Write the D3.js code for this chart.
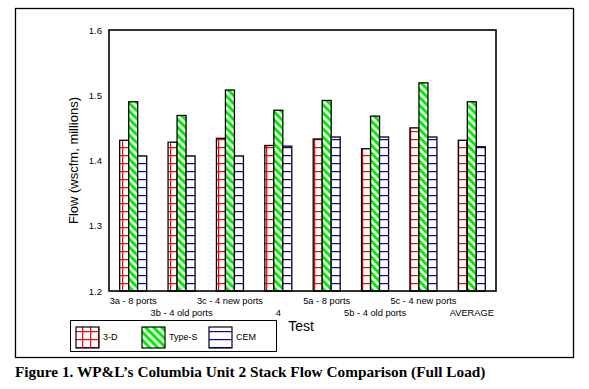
<!DOCTYPE html>
<html>
<head>
<meta charset="utf-8">
<script src="https://cdn.jsdelivr.net/npm/d3@7"></script>
<style>
  html, body { margin: 0; padding: 0; background: #fff; }
  svg { display: block; }
</style>
</head>
<body>
<script>
const categories = ["3a - 8 ports", "3b - 4 old ports", "3c - 4 new ports", "4",
                    "5a - 8 ports", "5b - 4 old ports", "5c - 4 new ports", "AVERAGE"];
const seriesNames = ["3-D", "Type-S", "CEM"];
const values3D    = [1.431, 1.428, 1.434, 1.423, 1.433, 1.418, 1.450, 1.431];
const valuesTypeS = [1.490, 1.469, 1.508, 1.477, 1.492, 1.468, 1.519, 1.490];
const valuesCEM   = [1.407, 1.407, 1.407, 1.422, 1.436, 1.436, 1.436, 1.421];
const yTicks = [1.2, 1.3, 1.4, 1.5, 1.6];
const yTitle = "Flow (wscfm, millions)";
const xTitle = "Test";
const caption = "Figure 1. WP&L\u2019s Columbia Unit 2 Stack Flow Comparison (Full Load)";

const W = 589, H = 389;
const svg = d3.select("body").append("svg").attr("width", W).attr("height", H);
const defs = svg.append("defs");

// patterns
const p1 = defs.append("pattern").attr("id", "pat3d").attr("patternUnits", "userSpaceOnUse")
  .attr("width", 8).attr("height", 8);
p1.append("rect").attr("width", 8).attr("height", 8).attr("fill", "#fff");
p1.append("rect").attr("x", 2).attr("y", 0).attr("width", 1.2).attr("height", 8).attr("fill", "#ff0000");
p1.append("rect").attr("x", 0).attr("y", 3).attr("width", 8).attr("height", 1.2).attr("fill", "#ff0000");

const d = 8 / Math.SQRT2;
const p2 = defs.append("pattern").attr("id", "patS").attr("patternUnits", "userSpaceOnUse")
  .attr("width", d).attr("height", d).attr("patternTransform", "rotate(-45)");
p2.append("rect").attr("width", d).attr("height", d).attr("fill", "#fff");
p2.append("rect").attr("width", d / 2 + 0.3).attr("height", d).attr("fill", "#00ee00");

const p3 = defs.append("pattern").attr("id", "patCEM").attr("patternUnits", "userSpaceOnUse")
  .attr("width", 8).attr("height", 8);
p3.append("rect").attr("width", 8).attr("height", 8).attr("fill", "#fff");
p3.append("rect").attr("x", 0).attr("y", 3).attr("width", 8).attr("height", 1.2).attr("fill", "#0000cc");

const fills = ["url(#pat3d)", "url(#patS)", "url(#patCEM)"];
const seriesValues = [values3D, valuesTypeS, valuesCEM];

// outer frame
svg.append("rect").attr("x", 15.5).attr("y", 8.5).attr("width", 558).attr("height", 349)
  .attr("fill", "none").attr("stroke", "#000").attr("stroke-width", 1.3);

const plot = { left: 109, right: 496, top: 30, bottom: 291 };
const y = d3.scaleLinear().domain([1.2, 1.6]).range([plot.bottom, plot.top]);
const x0 = d3.scaleBand().domain(categories).range([plot.left, plot.right])
  .paddingInner(0.442).paddingOuter(0.221);
const x1 = d3.scaleBand().domain(seriesNames).range([0, x0.bandwidth()]);

// bars
categories.forEach((c, i) => {
  seriesNames.forEach((s, j) => {
    const v = seriesValues[j][i];
    svg.append("rect")
      .attr("x", x0(c) + x1(s))
      .attr("y", y(v))
      .attr("width", x1.bandwidth())
      .attr("height", y(1.2) - y(v))
      .attr("fill", fills[j])
      .attr("stroke", "#000").attr("stroke-width", 1.3);
  });
});

// plot frame
svg.append("rect").attr("x", plot.left).attr("y", plot.top)
  .attr("width", plot.right - plot.left).attr("height", plot.bottom - plot.top)
  .attr("fill", "none").attr("stroke", "#000").attr("stroke-width", 1.6);

const font = "'Liberation Sans', Arial, sans-serif";

// y axis
const yAxis = d3.axisLeft(y).tickValues(yTicks).tickFormat(d3.format(".1f")).tickSize(0).tickPadding(7);
const gy = svg.append("g").attr("transform", `translate(${plot.left},0)`).call(yAxis);
gy.select(".domain").remove();
gy.selectAll("text").attr("font-family", font).attr("font-size", "9.5px").attr("fill", "#000");

// x axis labels (staggered)
const xAxis = d3.axisBottom(x0).tickSize(0).tickPadding(0);
const gx = svg.append("g").attr("transform", `translate(0,${plot.bottom})`).call(xAxis);
gx.select(".domain").remove();
gx.selectAll("text")
  .attr("font-family", font).attr("font-size", "9.3px").attr("fill", "#000")
  .attr("dy", null)
  .attr("y", (dd, i) => (i % 2 === 0 ? 13 : 25));

// axis titles
svg.append("text").attr("transform", `translate(78,${(plot.top + plot.bottom) / 2}) rotate(-90)`)
  .attr("text-anchor", "middle").attr("font-family", font).attr("font-size", "13px").text(yTitle);
svg.append("text").attr("x", 301).attr("y", 331).attr("text-anchor", "middle")
  .attr("font-family", font).attr("font-size", "14px").text(xTitle);

// legend
svg.append("rect").attr("x", 70.5).attr("y", 320.5).attr("width", 206).attr("height", 31)
  .attr("fill", "none").attr("stroke", "#000").attr("stroke-width", 1);
const legX = [76, 142, 209];
seriesNames.forEach((s, j) => {
  svg.append("rect").attr("x", legX[j]).attr("y", 327).attr("width", 23).attr("height", 21)
    .attr("fill", fills[j]).attr("stroke", "#000").attr("stroke-width", 1.2);
  svg.append("text").attr("x", legX[j] + 27).attr("y", 340)
    .attr("font-family", font).attr("font-size", "9px").text(s);
});

// caption
svg.append("text").attr("x", 15).attr("y", 377)
  .attr("font-family", "'Liberation Serif', 'Times New Roman', serif")
  .attr("font-weight", "bold").attr("font-size", "15.3px").text(caption);
</script>
</body>
</html>
